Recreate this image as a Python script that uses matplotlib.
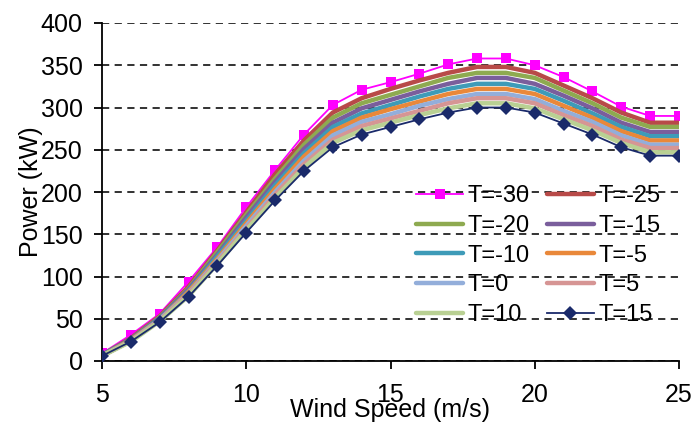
import matplotlib
matplotlib.use("Agg")
import matplotlib.pyplot as plt

plt.rcParams['font.family'] = ['Liberation Sans', 'DejaVu Sans']

wind_speed = [5, 6, 7, 8, 9, 10, 11, 12, 13, 14, 15, 16, 17, 18, 19, 20, 21, 22, 23, 24, 25]

p_m30 = [9, 31, 56, 94, 135, 182, 226, 268, 303, 321, 330, 340, 351, 358, 358, 350, 336, 319, 301, 290, 290]
p_m25 = [7, 27, 53, 88, 131, 176, 221, 261, 294, 311, 322, 332, 341, 348, 348, 341, 326, 311, 294, 282, 282]
p_m20 = [7, 26, 52, 86, 129, 173, 216, 256, 288, 305, 315, 325, 335, 341, 341, 335, 320, 305, 288, 277, 277]
p_m15 = [7, 26, 51, 85, 126, 170, 212, 251, 282, 299, 309, 319, 328, 335, 335, 328, 314, 299, 282, 271, 271]
p_m10 = [7, 25, 50, 83, 124, 166, 208, 246, 277, 293, 303, 313, 322, 328, 328, 322, 308, 293, 277, 266, 266]
p_m5 = [6, 25, 49, 82, 121, 163, 204, 242, 272, 288, 298, 307, 316, 322, 322, 316, 302, 288, 272, 261, 261]
p_0 = [6, 24, 49, 80, 119, 160, 200, 237, 267, 283, 292, 302, 310, 316, 316, 310, 296, 283, 267, 256, 256]
p_5 = [6, 24, 48, 79, 117, 157, 197, 233, 262, 278, 287, 296, 305, 311, 311, 305, 291, 278, 262, 252, 252]
p_10 = [6, 23, 47, 77, 115, 155, 193, 229, 258, 273, 282, 291, 299, 305, 305, 299, 286, 273, 258, 247, 247]
p_15 = [6, 23, 46, 76, 113, 152, 190, 225, 253, 268, 277, 286, 294, 300, 300, 294, 281, 268, 253, 243, 243]

labels = ["T=-30", "T=-25", "T=-20", "T=-15", "T=-10", "T=-5", "T=0", "T=5", "T=10", "T=15"]
series = [p_m30, p_m25, p_m20, p_m15, p_m10, p_m5, p_0, p_5, p_10, p_15]
colors = ["#FF00FF", "#B84A48", "#8EAA50", "#7A5E9C", "#3E9BB8", "#E9883A",
          "#93AEDA", "#D69594", "#B9D093", "#1A2A6A"]

fig = plt.figure(figsize=(6.95, 4.22), dpi=100)
ax = fig.add_axes([102/695, 1-361/422, (679-102)/695, (361-23)/422])

handles = []
for i, (lab, vals, c) in enumerate(zip(labels, series, colors)):
    if lab == "T=-30":
        h, = ax.plot(wind_speed, vals, color=c, lw=1.3, marker='s', ms=7.5,
                     markeredgewidth=0, label=lab, zorder=2 + i)
    elif lab == "T=15":
        h, = ax.plot(wind_speed, vals, color=c, lw=1.3, marker='D', ms=7.5,
                     markeredgewidth=0, label=lab, zorder=2 + i)
    else:
        h, = ax.plot(wind_speed, vals, color=c, lw=3.2, label=lab, zorder=2 + i,
                     solid_capstyle='round')
    handles.append(h)

ax.set_xlim(5, 25)
ax.set_ylim(0, 400)
ax.set_xticks([5, 10, 15, 20, 25])
ax.set_yticks(range(0, 401, 50))
ax.yaxis.grid(True, color='#222222', linestyle=(0, (4, 3)), linewidth=1.3)
ax.set_axisbelow(True)
for s in ['top', 'right']:
    ax.spines[s].set_visible(False)
ax.spines['left'].set_linewidth(1.3)
ax.spines['bottom'].set_linewidth(1.3)
ax.tick_params(axis='both', direction='out', length=6, width=1.3, labelsize=18,
               colors='black')
ax.tick_params(axis='y', pad=8)
ax.tick_params(axis='x', pad=10)
ax.set_xlabel("Wind Speed (m/s)", fontsize=18, labelpad=-7)
ax.set_ylabel("Power (kW)", fontsize=18, labelpad=-2)

order = [0, 2, 4, 6, 8, 1, 3, 5, 7, 9]
leg = fig.legend([handles[k] for k in order], [labels[k] for k in order],
                 ncol=2, frameon=False, fontsize=17, loc='upper left',
                 bbox_to_anchor=(416/695, 1-185/422), borderpad=0, borderaxespad=0,
                 handlelength=2.0, handletextpad=0.2, columnspacing=0.7,
                 labelspacing=0.33)

fig.savefig("out.png", dpi=100)
